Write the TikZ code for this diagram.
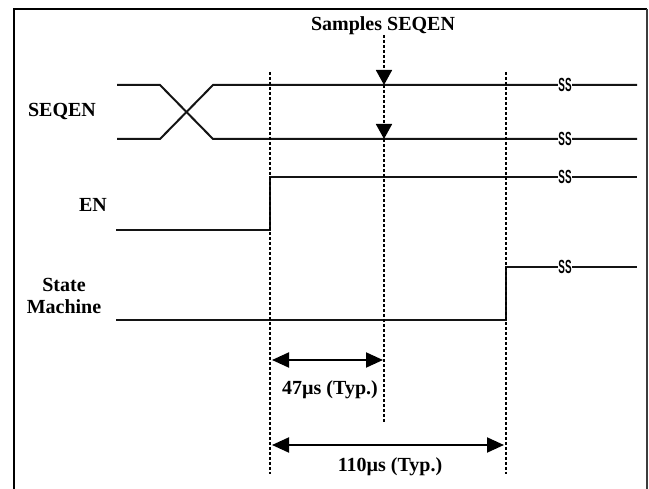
\documentclass[tikz,border=0pt]{standalone}
\usepackage{fontspec}
\setmainfont{Liberation Serif}
\setsansfont{Liberation Sans}
\usepackage{graphicx}
\usetikzlibrary{arrows.meta, positioning}
\definecolor{wavegray}{RGB}{20,20,20}
\definecolor{framegray}{RGB}{60,60,60}
\tikzset{
  signal/.style={line width=2pt, color=wavegray},
  guide/.style={line width=1.7pt, dash pattern=on 3pt off 2pt, color=black},
  samplearrow/.style={guide, -{Triangle[length=15pt, width=16pt]}},
  dimarrow/.style={line width=2pt, {Triangle[length=17pt, width=15pt]}-{Triangle[length=17pt, width=15pt]}},
  lbl/.style={font=\fontsize{20}{22}\selectfont\bfseries, inner sep=0pt, align=center},
  brk/.style={fill=white, inner sep=0.8pt,
    font=\sffamily\bfseries\fontsize{19}{19}\selectfont}
}
\newcommand{\brkmark}{\scalebox{0.52}[1]{SS}}

\begin{document}
\begin{tikzpicture}[x=1pt, y=-1pt]
  \useasboundingbox (0,0) rectangle (649,489);
  % frame
  \draw[line width=2.6pt, color=black] (14,489) -- (14,9) -- (647,9);
  \draw[line width=1.4pt, color=framegray] (647,9) -- (647,489);

  % signal labels
  \node[lbl] (seqen) at (62,112) {SEQEN};
  \node[lbl, anchor=east] (en) at (107,205) {EN};
  \node[lbl] (sm) at (64,296) {State\\Machine};
  \node[lbl] (samples) at (383,26) {Samples SEQEN};

  % SEQEN
  \coordinate (sqa) at (117,85);
  \coordinate (sqb) at (117,139);
  \coordinate (sqx) at (160,85);
  \coordinate (sqy) at (160,139);
  \coordinate (sqc) at (213,85);
  \coordinate (sqd) at (213,139);
  \draw[signal] (sqa) -- (sqx) -- (sqd) -- (637,139);
  \draw[signal] (sqb) -- (sqy) -- (sqc) -- (637,85);

  % EN
  \coordinate (ena) at (116,230);
  \coordinate (enr) at (270,230);
  \draw[signal] (ena) -- (enr) -- (270,177) -- (637,177);

  % State Machine
  \coordinate (sma) at (116,320);
  \coordinate (smr) at (506,320);
  \draw[signal] (sma) -- (smr) -- (506,267) -- (637,267);

  % breaks
  \foreach \y in {85,139,177,267}
    \node[brk] at (565,\y) {\brkmark};

  % guides
  \coordinate (ga) at (270,72);
  \coordinate (gb) at (270,474);
  \coordinate (gc) at (506,72);
  \coordinate (gd) at (506,474);
  \coordinate (sa) at (384,35);
  \coordinate (sb) at (384,85);
  \coordinate (sc) at (384,139);
  \coordinate (sd) at (384,423);
  \draw[guide] (ga) -- (gb);
  \draw[guide] (gc) -- (gd);
  \draw[samplearrow] (sa) -- (sb);
  \draw[samplearrow] (sb) -- (sc);
  \draw[guide] (sc) -- (sd);

  % timings
  \draw[dimarrow] (272,360) -- (383,360);
  \node[lbl] (t47) at (330,390) {47µs (Typ.)};
  \draw[dimarrow] (272,445) -- (504,445);
  \node[lbl] (t110) at (390,467) {110µs (Typ.)};
\end{tikzpicture}
\end{document}
